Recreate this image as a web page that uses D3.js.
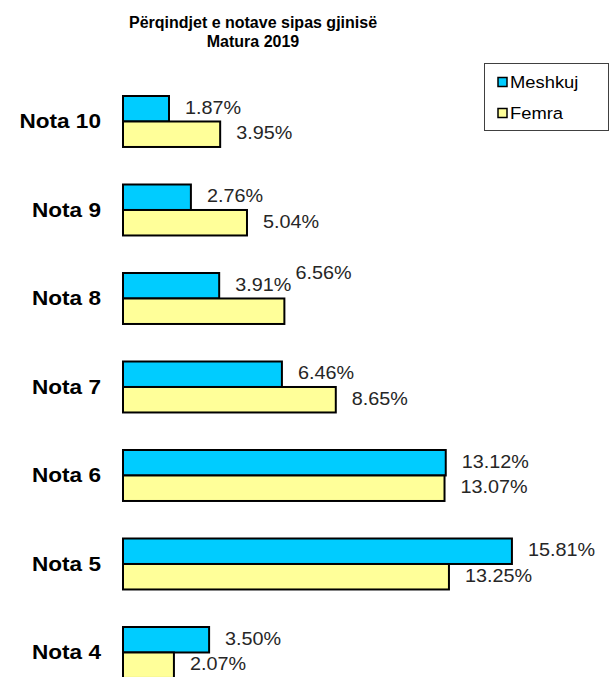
<!DOCTYPE html>
<html>
<head>
<meta charset="utf-8">
<script src="https://cdn.jsdelivr.net/npm/d3@7"></script>
<style>
  html, body { margin: 0; padding: 0; background: #fff; }
  svg { display: block; font-family: "Liberation Sans", Arial, sans-serif; }
</style>
</head>
<body>
<div id="chart"></div>
<script>
const categories = ["Nota 10", "Nota 9", "Nota 8", "Nota 7", "Nota 6", "Nota 5", "Nota 4"];
const seriesNames = ["Meshkuj", "Femra"];
const meshkuj = [1.87, 2.76, 3.91, 6.46, 13.12, 15.81, 3.50];
const femra = [3.95, 5.04, 6.56, 8.65, 13.07, 13.25, 2.07];
const seriesColors = ["#00CCFF", "#FFFF99"];
const titleLines = ["Përqindjet e notave sipas gjinisë", "Matura 2019"];

const W = 610, H = 677;

const svg = d3.select("#chart").append("svg").attr("width", W).attr("height", H);

const x = d3.scaleLinear().domain([0, 16]).range([123, 123 + 16 * 24.6]);
const step = 88.5, pad = 0.424;
const y0 = 96 - step * pad / 2;
const y = d3.scaleBand().domain(categories).range([y0, y0 + step * categories.length])
  .paddingInner(pad).paddingOuter(pad / 2);
const ys = d3.scaleBand().domain(seriesNames).range([0, y.bandwidth()]).padding(0);

const rows = categories.map((c, i) => ({ cat: c, vals: [meshkuj[i], femra[i]] }));

function stretchedText(sel, px, py, txt, size, weight, anchor, fill, sx) {
  return sel.append("text")
    .attr("transform", `translate(${px},${py}) scale(${sx},1)`)
    .attr("text-anchor", anchor)
    .attr("dominant-baseline", "central")
    .attr("font-size", size)
    .attr("font-weight", weight)
    .attr("fill", fill)
    .text(txt);
}

// Title
titleLines.forEach((t, i) => {
  stretchedText(svg, 253, 22 + i * 19, t, 16, "bold", "middle", "#000", 1.0);
});

// Bars
const g = svg.append("g");
rows.forEach(r => {
  const gy = y(r.cat);
  seriesNames.forEach((s, si) => {
    const v = r.vals[si];
    g.append("rect")
      .attr("x", x(0))
      .attr("y", gy + ys(s))
      .attr("width", x(v) - x(0))
      .attr("height", ys.bandwidth())
      .attr("fill", seriesColors[si])
      .attr("stroke", "#000")
      .attr("stroke-width", 2);
  });
});

// Value labels
rows.forEach(r => {
  const gy = y(r.cat);
  seriesNames.forEach((s, si) => {
    const v = r.vals[si];
    let lx = x(v) + 16;
    let ly = gy + ys(s) + ys.bandwidth() / 2 - 1;
    if (r.cat === "Nota 8" && s === "Femra") { lx -= 5; ly -= 37; }
    stretchedText(svg, lx, ly, v.toFixed(2) + "%", 18, "normal", "start", "#262626", 1.1);
  });
});

// Category labels
categories.forEach(c => {
  stretchedText(svg, 101, y(c) + y.bandwidth() / 2, c, 20, "bold", "end", "#000", 1.13);
});

// Legend
const lg = svg.append("g");
lg.append("rect").attr("x", 484.5).attr("y", 63.5).attr("width", 124).attr("height", 67)
  .attr("fill", "#fff").attr("stroke", "#404040").attr("stroke-width", 1);
seriesNames.forEach((s, i) => {
  const cy = 82 + i * 31;
  lg.append("rect").attr("x", 498).attr("y", cy - 4.5).attr("width", 9).attr("height", 9)
    .attr("fill", seriesColors[i]).attr("stroke", "#000").attr("stroke-width", 1.5);
  stretchedText(lg, 510, cy, s, 17, "normal", "start", "#000", 1.08);
});
</script>
</body>
</html>
